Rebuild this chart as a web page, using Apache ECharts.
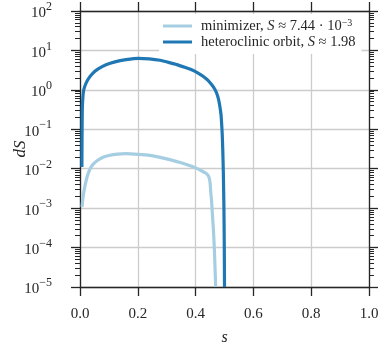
<!DOCTYPE html>
<html>
<head>
<meta charset="utf-8">
<script src="https://cdn.jsdelivr.net/npm/echarts@6/dist/echarts.min.js"></script>
<style>
    html, body { margin: 0; padding: 0; background: #fff; }
    #chart { width: 383px; height: 349px; }
</style>
</head>
<body>
<div id="chart"></div>
<script>
    // minimizer (light blue)
    var sMin = [0.007, 0.009, 0.012, 0.016, 0.022, 0.028, 0.035, 0.045, 0.06, 0.08, 0.10, 0.13, 0.16, 0.20, 0.242, 0.27, 0.311, 0.35, 0.381, 0.40, 0.42, 0.433, 0.441, 0.446, 0.450, 0.452, 0.455, 0.459, 0.462, 0.465, 0.4695];
    var dsMin = [1.07e-3, 1.51e-3, 2.24e-3, 3.31e-3, 5.25e-3, 7.41e-3, 0.0100, 0.0129, 0.0162, 0.0195, 0.0216, 0.0234, 0.0240, 0.0232, 0.0219, 0.0200, 0.0170, 0.0141, 0.0119, 0.0105, 0.0089, 0.0079, 0.0071, 0.0062, 0.0045, 0.0028, 0.0016, 5.6e-4, 2.5e-4, 8.9e-5, 1e-5];
    // heteroclinic orbit (dark blue)
    var sHet = [0.0065, 0.007, 0.0075, 0.008, 0.009, 0.011, 0.014, 0.021, 0.03, 0.044, 0.063, 0.09, 0.121, 0.159, 0.202, 0.24, 0.277, 0.31, 0.335, 0.365, 0.392, 0.41, 0.427, 0.443, 0.456, 0.466, 0.473, 0.479, 0.484, 0.488, 0.490, 0.492, 0.494, 0.496, 0.498, 0.4993, 0.5];
    var dsHet = [0.011, 0.05, 0.16, 0.32, 0.5, 0.79, 1.07, 1.48, 1.95, 2.63, 3.39, 4.32, 5.13, 5.82, 6.31, 6.1, 5.62, 4.9, 4.37, 3.67, 3.09, 2.63, 2.19, 1.74, 1.34, 1.05, 0.82, 0.59, 0.38, 0.234, 0.143, 0.079, 0.030, 0.0079, 0.001, 1e-4, 1e-5];

    var minorVals = [];
    for (var d = -5; d < 2; d++) {
        for (var m = 2; m <= 9; m++) {
            minorVals.push(m * Math.pow(10, d));
        }
    }

    function pairs(xs, ys) {
        var out = [];
        for (var i = 0; i < xs.length; i++) out.push([xs[i], ys[i]]);
        return out;
    }

    var font = 'Liberation Serif';
    var ink = '#262626';
    var grey = '#cccccc';

    var sup = function (v) {
        var e = Math.round(Math.log10(v));
        return '{b|10}{s|' + (e < 0 ? '\u2212' + (-e) : e) + '}';
    };
    var labelRich = {
        b: {fontFamily: font, fontSize: 15, color: ink, lineHeight: 20, verticalAlign: 'bottom'},
        s: {fontFamily: font, fontSize: 12, color: ink, lineHeight: 12, verticalAlign: 'top'}
    };

    function yAxisBase(pos, major) {
        return {
            type: 'log',
            logBase: 10,
            position: pos,
            min: 1e-5,
            max: 1e2,
            interval: 1,
            axisLine: {show: major, lineStyle: {color: ink, width: 1.3}},
            axisTick: major ? {show: true, inside: false, length: 9, lineStyle: {color: ink, width: 1.3}}
                : {show: true, inside: false, length: 5, customValues: minorVals, lineStyle: {color: ink, width: 1}},
            axisLabel: {show: false},
            splitLine: {show: false}
        };
    }

    var yLeft = yAxisBase('left', true);
    yLeft.splitLine = {show: true, lineStyle: {color: grey, width: 1.3}};
    yLeft.axisLabel = {show: true, margin: 28, formatter: sup, rich: labelRich};
    yLeft.name = 'dS';
    yLeft.nameLocation = 'middle';
    yLeft.nameGap = 51;
    yLeft.nameMoveOverlap = false;
    yLeft.nameTextStyle = {fontFamily: font, fontStyle: 'italic', fontSize: 17, color: ink};

    var chart = echarts.init(document.getElementById('chart'), null, {renderer: 'canvas'});
    chart.setOption({
        backgroundColor: '#fff',
        animation: false,
        grid: {left: 80, right: 14, top: 11, bottom: 62, outerBoundsMode: 'none', containLabel: false},
        legend: {
            orient: 'vertical',
            left: 159,
            top: 14,
            padding: [4, 6, 4, 4],
            icon: 'rect',
            itemWidth: 29,
            itemHeight: 3,
            itemGap: 0,
            backgroundColor: '#fff',
            data: ['minimizer', 'heteroclinic orbit'],
            formatter: function (name) {
                return name === 'minimizer'
                    ? 'minimizer, {i|S} \u2248 7.44 \u00b7 10{s|\u22123}'
                    : 'heteroclinic orbit, {i|S} \u2248 1.98';
            },
            textStyle: {
                fontFamily: font, fontSize: 14.5, color: ink, lineHeight: 16, padding: [0, 0, 0, 4],
                rich: {
                    i: {fontFamily: font, fontSize: 14.5, fontStyle: 'italic', color: ink, lineHeight: 16},
                    s: {fontFamily: font, fontSize: 10, color: ink, verticalAlign: 'top', lineHeight: 10}
                }
            }
        },
        xAxis: [{
            type: 'value',
            position: 'bottom',
            min: 0,
            max: 1,
            interval: 0.2,
            axisLine: {show: true, lineStyle: {color: ink, width: 1.3}},
            axisTick: {show: true, inside: false, length: 9, lineStyle: {color: ink, width: 1.3}},
            axisLabel: {
                margin: 20, fontFamily: font, fontSize: 15, color: ink,
                formatter: function (v) { return v.toFixed(1); }
            },
            splitLine: {show: true, lineStyle: {color: grey, width: 1.3}},
            name: 's',
            nameLocation: 'middle',
            nameGap: 43,
            nameMoveOverlap: false,
            nameTextStyle: {fontFamily: font, fontStyle: 'italic', fontSize: 16, color: ink}
        }, {
            type: 'value',
            position: 'top',
            min: 0,
            max: 1,
            interval: 0.2,
            axisLine: {show: true, lineStyle: {color: ink, width: 1.3}},
            axisTick: {show: true, inside: false, length: 9, lineStyle: {color: ink, width: 1.3}},
            axisLabel: {show: false},
            splitLine: {show: false}
        }],
        yAxis: [yLeft, yAxisBase('left', false), yAxisBase('right', true), yAxisBase('right', false)],
        series: [{
            name: 'minimizer',
            type: 'line',
            data: pairs(sMin, dsMin),
            symbol: 'none',
            showSymbol: false,
            smooth: 0.2,
            clip: true,
            color: '#a6cee3',
            lineStyle: {color: '#a6cee3', width: 3.2}
        }, {
            name: 'heteroclinic orbit',
            type: 'line',
            data: pairs(sHet, dsHet),
            symbol: 'none',
            showSymbol: false,
            smooth: 0.2,
            clip: true,
            color: '#1f78b4',
            lineStyle: {color: '#1f78b4', width: 3.2}
        }]
    });
</script>
</body>
</html>
